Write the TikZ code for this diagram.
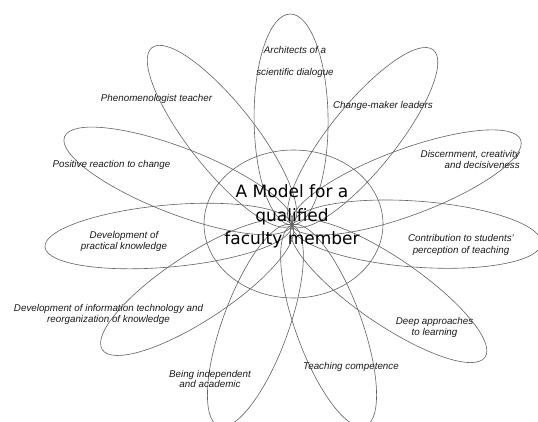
\documentclass[tikz,border=0pt]{standalone}
\usepackage{fontspec}
\usetikzlibrary{shapes.geometric}
\setmainfont{Liberation Sans}
\newfontfamily\hubfont{DejaVu Sans}
\begin{document}
\begin{tikzpicture}[x=1pt,y=1pt,
  petal/.style={draw=black!62, line width=0.6pt},
  lbl/.style={font=\itshape\fontsize{9.8}{11.4}\selectfont, align=center, inner sep=0pt, text=black!90},
  hub/.style={font=\hubfont\fontsize{17}{23.5}\selectfont, align=center, inner sep=0pt}]
\useasboundingbox (0,0) rectangle (538,421);
\fill[white] (0,0) rectangle (538,421);

% point where all petals meet
\coordinate (C) at (292,196);

% central ellipse
\node[petal, ellipse, minimum width=179pt, minimum height=148pt, inner sep=0pt] (core) at (293.5,197) {};

% petals: direction, length, half width
\foreach \a/\L/\b in {90.5/211/37, 51.1/225/33, 20.4/244/33, -4.2/250/33,
    -34.4/234/33, -70/214/33, 250/214/33, 213.3/227/33, 185.1/248/31,
    158.8/244/33, 128.3/226/33}
  \draw[petal, shift={(C)}, rotate=\a] (\L/2,0) ellipse ({\L/2} and \b);

% hub title
\node[hub] (title) at (292,204.3) {A Model for a\\qualified\\faculty member};

% petal labels
\node[lbl, font=\itshape\fontsize{9.8}{22}\selectfont] (l1) at (295,359) {Architects of a\\scientific dialogue};
\node[lbl] (l2) at (383,315) {Change-maker leaders};
\node[lbl, align=right, anchor=east, font=\itshape\fontsize{9.8}{10.5}\selectfont] (l3) at (520,261.7) {Discernment, creativity\\and decisiveness};
\node[lbl] (l4) at (461,176) {Contribution to students'\\perception of teaching};
\node[lbl] (l5) at (434.5,93.5) {Deep approaches\\to learning};
\node[lbl] (l6) at (351,54) {Teaching competence};
\node[lbl, font=\itshape\fontsize{9.8}{10.5}\selectfont] (l7) at (210,42) {Being independent\\and academic};
\node[lbl] (l8) at (108.5,106.7) {Development of information technology and\\reorganization of knowledge};
\node[lbl] (l9) at (124,179.5) {Development of\\practical knowledge};
\node[lbl] (l10) at (111.5,256) {Positive reaction to change};
\node[lbl] (l11) at (156.5,322) {Phenomenologist teacher};
\end{tikzpicture}
\end{document}
